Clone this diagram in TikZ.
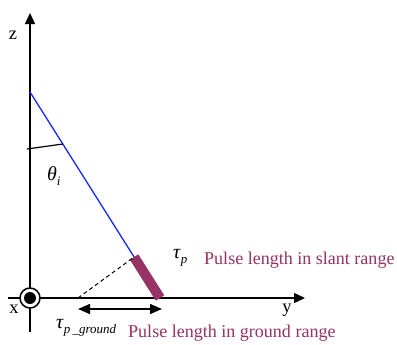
\documentclass[tikz,border=0pt]{standalone}
\usepackage{fontspec}
\setmainfont{Liberation Serif}
\usetikzlibrary{arrows.meta}
\definecolor{pulse}{RGB}{150,50,100}
\definecolor{beam}{RGB}{20,40,255}
\newcommand{\subtxt}[1]{\raisebox{-4.5bp}{\fontsize{13}{13}\selectfont\itshape #1}}
\begin{document}
\begin{tikzpicture}[x=1bp,y=-1bp,
  axis/.style={line width=1.4bp,-{Triangle[length=11bp,width=10bp]}},
  lbl/.style={inner sep=0pt,font=\fontsize{18.5}{20}\selectfont},
  greek/.style={inner sep=0pt,font=\fontsize{20}{22}\selectfont},
  ptext/.style={inner sep=0pt,font=\fontsize{18.1}{20}\selectfont,text=pulse,anchor=west}]
\useasboundingbox (0,0) rectangle (397,345);
\coordinate (O) at (30,298);
\coordinate (zb) at (30,332);
\coordinate (zt) at (30,13);
\coordinate (yl) at (8,298);
\coordinate (yr) at (305,298);
\coordinate (S) at (30,92);
\coordinate (B) at (134.1,257);
\coordinate (G) at (160,298);
\coordinate (D) at (78,298);
\coordinate (A1) at (27,149);
\coordinate (A2) at (62.8,144);
\coordinate (L) at (78,309);
\coordinate (R) at (162,309);
\draw[axis] (zb) -- (zt);
\draw[axis] (yl) -- (yr);
\draw[beam,line width=1.3bp] (S) -- (B);
\draw[pulse,line width=10bp] (B) -- (G);
\draw[dashed,line width=1bp,dash pattern=on 4bp off 3bp] (D) -- (B);
\draw[line width=1.2bp] (A1) -- (A2);
\draw[line width=1.4bp,{Triangle[length=12bp,width=10bp]}-{Triangle[length=12bp,width=10bp]}] (L) -- (R);
\node[circle,draw,fill=white,line width=1.5bp,minimum size=20bp,inner sep=0pt] (xc) at (O) {};
\node[circle,fill,minimum size=12bp,inner sep=0pt] (xd) at (O) {};
\node[lbl] (zl) at (13,35) {z};
\node[lbl] (xl) at (14,309) {x};
\node[lbl] (yla) at (287,310) {y};
\node[greek,anchor=west] (th) at (47,176) {\textit{θ}\subtxt{i}};
\node[greek,anchor=west] (tp) at (173,258) {\textit{τ}\subtxt{p}};
\node[ptext] (tpt) at (204,260) {Pulse length in slant range};
\node[greek,anchor=west] (tg) at (56,328) {\textit{τ}\subtxt{p\,\_ground}};
\node[ptext] (tgt) at (128,333) {Pulse length in ground range};
\end{tikzpicture}
\end{document}
